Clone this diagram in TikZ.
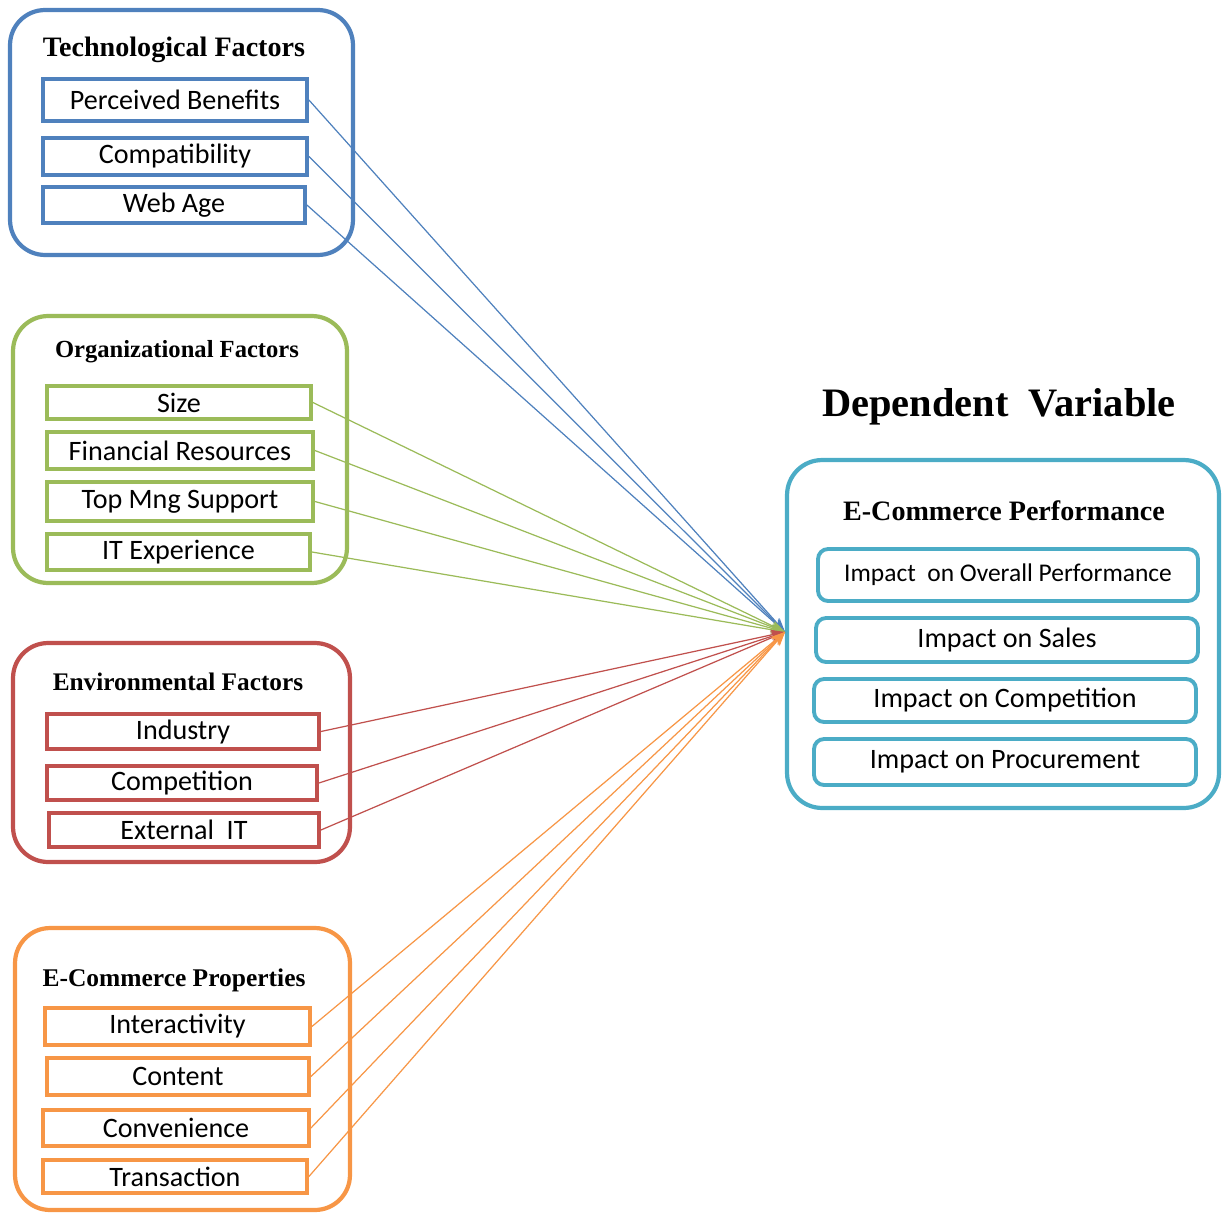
\documentclass[tikz,border=0pt]{standalone}
\usepackage{fontspec}
\setmainfont{Carlito}
\newfontfamily\headfont{Liberation Serif}
\usetikzlibrary{arrows.meta}
\definecolor{techblue}{RGB}{79,129,189}
\definecolor{orggreen}{RGB}{155,187,89}
\definecolor{envred}{RGB}{192,80,77}
\definecolor{proporange}{RGB}{247,150,70}
\definecolor{perfteal}{RGB}{75,172,198}
\newcommand{\fs}[1]{\fontsize{#1}{#1}\selectfont}
\tikzset{>={Stealth[length=8pt,width=6pt]},every node/.style={font=\fs{16}},
grp/.style={draw,line width=2.4pt,rounded corners=0.7cm,inner sep=0pt},
item/.style={draw,line width=2.2pt,inner sep=0pt},
ritem/.style={item,rounded corners=0.2cm},
head/.style={font=\headfont\bfseries\fs{14}},
link/.style={->,line width=0.7pt}}

\begin{document}
\begin{tikzpicture}[x=0.02cm,y=-0.02cm]
\useasboundingbox (0,0) rectangle (1222,1213);
% technological factors
\node[grp,techblue,minimum width=6.86cm,minimum height=4.9cm] (tech) at (181.5,132.5){};
\node[head,font=\headfont\bfseries\fs{16}] (techhd) at (174,50){Technological Factors};
\node[item,techblue,text=black,minimum width=5.28cm,minimum height=0.84cm] (pb) at (175,100){Perceived Benefits};
\node[item,techblue,text=black,minimum width=5.28cm,minimum height=0.74cm] (comp) at (175,156.5){Compatibility};
\node[item,techblue,text=black,minimum width=5.24cm,minimum height=0.72cm] (web) at (174,205){Web Age};
% organizational factors
\node[grp,orggreen,minimum width=6.68cm,minimum height=5.34cm] (org) at (180,449.5){};
\node[head] (orghd) at (177,352){Organizational Factors};
\node[item,orggreen,text=black,minimum width=5.28cm,minimum height=0.66cm] (size) at (179,402.5){Size};
\node[item,orggreen,text=black,minimum width=5.32cm,minimum height=0.74cm] (fin) at (180,450.5){Financial Resources};
\node[item,orggreen,text=black,minimum width=5.32cm,minimum height=0.78cm] (top) at (180,501.5){Top Mng Support};
\node[item,orggreen,text=black,minimum width=5.26cm,minimum height=0.72cm] (itexp) at (178.5,552){IT Experience};
% environmental factors
\node[grp,envred,minimum width=6.74cm,minimum height=4.38cm] (env) at (181.5,752.5){};
\node[head,font=\headfont\bfseries\fs{14.4}] (envhd) at (178,682){Environmental Factors};
\node[item,envred,text=black,minimum width=5.44cm,minimum height=0.7cm] (ind) at (183,731.5){Industry};
\node[item,envred,text=black,minimum width=5.4cm,minimum height=0.68cm] (cpt) at (182,783){Competition};
\node[item,envred,text=black,minimum width=5.4cm,minimum height=0.68cm] (extit) at (184,830){External\ \ IT};
% e-commerce properties
\node[grp,proporange,minimum width=6.7cm,minimum height=5.64cm] (prop) at (182.5,1069){};
\node[head,font=\headfont\bfseries\fs{14.5}] (prophd) at (174,980){E-Commerce Properties};
\node[item,proporange,text=black,minimum width=5.3cm,minimum height=0.74cm] (inter) at (177.5,1026.5){Interactivity};
\node[item,proporange,text=black,minimum width=5.24cm,minimum height=0.74cm] (cont) at (178,1076.5){Content};
\node[item,proporange,text=black,minimum width=5.32cm,minimum height=0.72cm] (conv) at (176,1128){Convenience};
\node[item,proporange,text=black,minimum width=5.28cm,minimum height=0.66cm] (trans) at (175,1176.5){Transaction};
% dependent variable
\node[head,font=\headfont\bfseries\fs{23}] (dephd) at (999,407){Dependent\ \ Variable};
\node[grp,perfteal,minimum width=8.64cm,minimum height=6.96cm] (perf) at (1003,634){};
\node[head,font=\headfont\bfseries\fs{16}] (perfhd) at (1004,511){E-Commerce Performance};
\node[ritem,perfteal,text=black,minimum width=7.6cm,minimum height=1.04cm,font=\fs{14.5}] (overall) at (1008,575){Impact\ \ on Overall Performance};
\node[ritem,perfteal,text=black,minimum width=7.64cm,minimum height=0.88cm] (sales) at (1007,640){Impact on Sales};
\node[ritem,perfteal,text=black,minimum width=7.64cm,minimum height=0.86cm] (pcomp) at (1005,700.5){Impact on Competition};
\node[ritem,perfteal,text=black,minimum width=7.64cm,minimum height=0.92cm] (proc) at (1005,762){Impact on Procurement};
% connectors
\coordinate (hub) at (785,632);
\foreach \n/\c in {pb/techblue,comp/techblue,web/techblue,size/orggreen,fin/orggreen,top/orggreen,itexp/orggreen,
  ind/envred,cpt/envred,extit/envred,inter/proporange,cont/proporange,conv/proporange,trans/proporange}
  \draw[link,\c] (\n.east) -- (hub);
\end{tikzpicture}
\end{document}
